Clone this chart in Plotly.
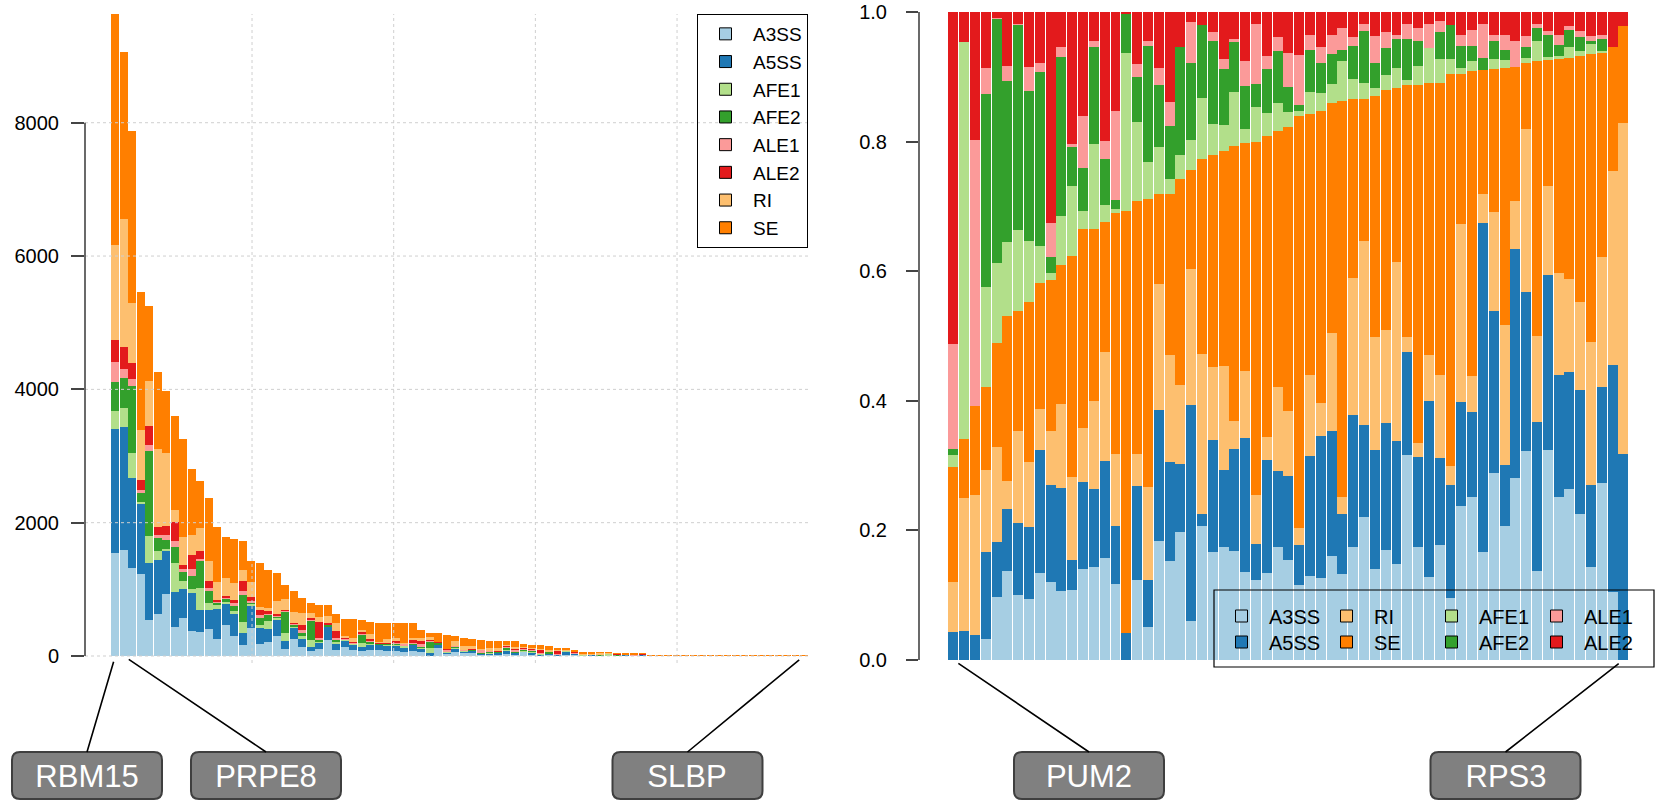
import plotly.graph_objects as go

W, H = 1656, 800
FONT = "Liberation Sans, Arial, Helvetica, sans-serif"

event_types = ["A3SS", "A5SS", "AFE1", "AFE2", "ALE1", "ALE2", "RI", "SE"]
palette = {"A3SS": "#A6CEE3", "A5SS": "#1F78B4", "AFE1": "#B2DF8A", "AFE2": "#33A02C",
           "ALE1": "#FB9A99", "ALE2": "#E31A1C", "RI": "#FDBF6F", "SE": "#FF7F00"}

# ---------------- left panel: event counts per RBP (sorted by total) ----------------
left_A3SS = [1548, 1594, 1320, 1229, 540, 631, 930, 436, 572, 377,
             364, 410, 260, 468, 293, 169, 416, 182, 215, 299,
             104, 260, 137, 78, 98, 247, 91, 137, 90, 75,
             85, 90, 70, 75, 55, 70, 55, 5, 115, 40,
             65, 40, 55, 20, 15, 25, 30, 20, 60, 20,
             10, 15, 10, 15, 15, 5, 5, 5, 0, 0,
             0, 5, 0, 0, 0, 0, 0, 0, 0, 0,
             0, 0, 0, 0, 0, 0, 0, 0, 0, 0,
             0, 0]
left_A5SS = [1860, 1841, 1353, 1047, 859, 813, 644, 527, 436, 572,
             325, 273, 442, 312, 338, 176, 332, 241, 195, 254,
             124, 163, 130, 59, 98, 189, 98, 91, 85, 60,
             80, 75, 90, 75, 65, 95, 50, 45, 50, 15,
             40, 30, 25, 15, 25, 25, 45, 30, 10, 30,
             15, 15, 5, 55, 25, 5, 10, 5, 0, 0,
             15, 0, 15, 0, 10, 0, 0, 0, 0, 0,
             0, 0, 0, 0, 0, 0, 0, 0, 0, 0,
             0, 0]
left_AFE1 = [267, 286, 371, 39, 403, 130, 33, 436, 117, 59,
             338, 117, 59, 33, 39, 169, 39, 46, 117, 20,
             117, 13, 26, 104, 20, 13, 20, 13, 5, 55,
             10, 5, 5, 15, 30, 10, 15, 65, 10, 5,
             15, 5, 5, 5, 5, 5, 10, 5, 5, 10,
             5, 5, 0, 10, 0, 10, 0, 0, 30, 0,
             0, 0, 0, 10, 0, 0, 0, 0, 0, 0,
             0, 0, 0, 0, 0, 0, 0, 0, 0, 0,
             0, 0]
left_AFE2 = [442, 449, 1008, 124, 1275, 195, 137, 241, 137, 195,
             397, 182, 39, 46, 78, 403, 20, 104, 98, 20,
             325, 39, 59, 293, 20, 20, 39, 13, 5, 135,
             35, 10, 20, 15, 10, 10, 15, 105, 20, 5,
             25, 10, 10, 10, 25, 5, 35, 10, 15, 15,
             5, 30, 5, 0, 0, 5, 0, 5, 0, 15,
             0, 0, 0, 0, 0, 0, 10, 0, 0, 0,
             0, 0, 0, 0, 0, 0, 0, 0, 0, 0,
             0, 0]
left_ALE1 = [293, 137, 104, 46, 91, 39, 78, 91, 46, 104,
             33, 39, 13, 13, 46, 59, 20, 39, 20, 13,
             13, 13, 39, 20, 39, 7, 20, 7, 10, 15,
             15, 5, 5, 10, 20, 15, 40, 5, 5, 25,
             5, 5, 5, 40, 5, 5, 15, 25, 25, 25,
             5, 5, 5, 0, 15, 0, 5, 0, 0, 0,
             5, 15, 0, 0, 0, 0, 0, 0, 0, 0,
             0, 0, 0, 0, 0, 0, 0, 0, 0, 0,
             0, 0]
left_ALE2 = [332, 332, 241, 156, 286, 130, 130, 280, 52, 208,
             117, 104, 26, 33, 46, 143, 52, 72, 26, 26,
             13, 13, 78, 20, 241, 26, 111, 20, 10, 25,
             25, 15, 10, 30, 10, 35, 45, 20, 5, 15,
             0, 5, 5, 5, 0, 5, 25, 20, 5, 10,
             50, 0, 50, 0, 5, 0, 0, 5, 0, 15,
             0, 0, 20, 0, 0, 10, 0, 0, 0, 0,
             0, 0, 0, 0, 0, 0, 0, 0, 0, 0,
             0, 0]
left_RI = [1424, 1919, 898, 748, 670, 1171, 1093, 182, 429, 299,
           345, 299, 273, 267, 260, 176, 234, 52, 52, 195,
           163, 163, 176, 78, 72, 104, 117, 20, 60, 30,
           75, 5, 60, 45, 10, 30, 45, 45, 0, 5,
           70, 55, 40, 10, 40, 45, 5, 25, 15, 20,
           15, 25, 15, 10, 10, 15, 20, 25, 15, 0,
           5, 5, 0, 0, 0, 0, 0, 10, 8, 0,
           5, 2, 0, 3, 0, 2, 0, 0, 2, 0,
           0, 0]
left_SE = [3467, 2504, 2582, 2075, 1125, 1151, 930, 1411, 1470, 995,
           709, 950, 826, 618, 657, 436, 312, 663, 572, 423,
           208, 312, 228, 150, 182, 163, 137, 260, 285, 150,
           180, 295, 240, 225, 290, 225, 120, 50, 135, 200,
           75, 115, 105, 130, 105, 105, 55, 85, 40, 30,
           55, 50, 30, 30, 20, 20, 20, 15, 15, 15,
           20, 20, 10, 5, 5, 5, 5, 5, 7, 10,
           10, 8, 10, 7, 8, 9, 7, 8, 6, 2,
           2, 2]
left_ticks = [0, 2000, 4000, 6000, 8000]
left_grid_units = [20, 40, 60, 80]          # barplot-unit positions of the vertical grid
left_callouts = [("RBM15", 0), ("PRPE8", 1), ("SLBP", 81)]

# ---------------- right panel: event composition (percent) per RBP ----------------
right_A3SS = [0, 0, 0, 3.3, 9.7, 13.7, 10.0, 9.4, 13.5, 12.0,
              10.6, 10.8, 14.0, 14.3, 15.7, 11.7, 0, 12.3, 5.1, 18.3,
              15.3, 19.7, 6.0, 20.7, 16.7, 17.4, 16.9, 13.5, 12.3, 13.5,
              17.4, 15.4, 11.6, 13.0, 12.7, 16.1, 13.3, 17.5, 22.0, 14.0,
              17.0, 14.9, 31.7, 17.5, 12.8, 17.7, 9.6, 23.7, 25.1, 16.6,
              28.9, 20.7, 28.1, 32.3, 13.8, 32.4, 25.2, 26.3, 22.6, 14.3,
              27.3, 10.5, 0]
right_A5SS = [4.3, 4.5, 3.9, 13.4, 8.6, 9.6, 11.1, 11.2, 18.9, 15.0,
              15.9, 4.6, 13.5, 12.1, 15.0, 8.9, 4.1, 14.6, 7.3, 20.3,
              15.2, 10.6, 33.3, 1.8, 17.2, 11.9, 15.7, 20.7, 5.6, 17.4,
              11.8, 13.0, 6.2, 18.5, 21.8, 19.3, 9.2, 20.3, 14.3, 18.4,
              19.5, 18.9, 15.9, 13.8, 27.1, 13.4, 17.4, 16.1, 13.2, 50.8,
              24.9, 9.4, 35.3, 24.5, 22.9, 27.0, 18.8, 18.1, 19.1, 12.7,
              14.8, 35.0, 31.8]
right_RI = [7.7, 20.5, 21.5, 12.6, 14.6, 4.3, 14.2, 10.0, 6.3, 8.3,
            13.0, 12.8, 8.3, 13.6, 16.9, 11.1, 0, 4.9, 14.3, 19.5,
            16.5, 12.1, 21.1, 24.6, 11.3, 16.1, 4.3, 10.4, 7.5, 3.5,
            13.0, 10.0, 2.6, 12.6, 5.2, 15.1, 2.6, 21.2, 28.4, 17.4,
            14.4, 27.7, 2.3, 2.2, 7.2, 12.8, 3.0, 27.4, 5.6, 4.5,
            15.3, 21.6, 7.3, 25.2, 13.3, 13.8, 15.8, 14.4, 13.6, 22.0,
            20.1, 29.9, 51.0]
right_SE = [17.8, 9.2, 13.8, 12.9, 16.0, 25.4, 18.6, 24.7, 19.5, 23.3,
            21.4, 34.2, 30.7, 26.4, 20.1, 37.2, 65.2, 39.1, 44.5, 13.8,
            24.9, 31.8, 15.2, 30.1, 32.7, 33.2, 42.5, 35.1, 54.5, 46.5,
            39.5, 43.9, 63.5, 40.3, 45.1, 35.7, 61.1, 27.5, 21.9, 37.2,
            37.0, 26.8, 39.0, 55.2, 41.9, 45.1, 60.5, 23.2, 47.0, 19.1,
            22.1, 39.6, 20.7, 10.2, 42.4, 19.5, 33.0, 34.0, 37.9, 44.5,
            31.6, 19.2, 15.0]
right_AFE1 = [1.9, 61.2, 0, 15.3, 12.4, 11.5, 12.4, 9.4, 5.8, 1.1,
              7.5, 10.7, 2.8, 13.2, 2.6, 0.6, 24.5, 12.1, 5.6, 7.2,
              2.4, 3.8, 4.6, 9.5, 4.8, 3.9, 8.3, 2.2, 5.4, 3.5,
              4.3, 2.2, 0.7, 3.3, 2.7, 2.8, 6.1, 3.2, 2.5, 1.3,
              2.3, 3.2, 0.7, 3.0, 5.4, 3.7, 2.3, 0.9, 1.5, 0,
              1.5, 1.2, 0, 0.7, 3.2, 0.3, 0.5, 1.7, 0.8, 1.5,
              0.2, 0, 0]
right_AFE2 = [0.8, 0, 0, 29.9, 37.8, 24.7, 31.8, 23.1, 26.8, 2.4,
              24.6, 6.0, 6.6, 14.9, 7.1, 1.4, 6.0, 6.9, 17.9, 9.6,
              8.1, 16.6, 12.0, 11.2, 12.7, 8.7, 7.7, 6.6, 3.5, 6.8,
              8.0, 3.9, 0.9, 6.6, 4.7, 4.7, 1.8, 5.0, 7.9, 3.9,
              4.2, 4.5, 6.4, 3.9, 0, 4.1, 5.2, 3.3, 2.3, 1.8,
              2.9, 1.6, 0, 1.7, 2.0, 3.4, 1.7, 2.6, 2.1, 0.5,
              2.0, 0, 0]
right_ALE1 = [16.2, 0, 41.1, 3.9, 0.1, 2.4, 0.1, 3.7, 1.4, 5.2,
              1.5, 0.6, 8.1, 0.9, 2.8, 13.7, 0, 2.0, 0.9, 2.6,
              3.7, 0, 6.2, 0, 1.4, 1.5, 0.6, 3.8, 9.2, 2.0,
              2.1, 5.2, 7.7, 2.3, 2.4, 3.0, 3.4, 1.4, 1.1, 4.1,
              2.4, 0.6, 2.2, 2.0, 3.7, 1.7, 0, 1.8, 2.5, 5.2,
              0.9, 2.3, 4.1, 1.7, 0.5, 0.6, 1.5, 0.6, 0.9, 0.8,
              0.5, 0, 0]
right_ALE2 = [51.3, 4.7, 19.7, 8.7, 0.9, 8.3, 1.8, 8.5, 7.9, 32.6,
              5.4, 20.3, 16.0, 4.5, 19.9, 15.3, 0.3, 8.1, 4.4, 8.7,
              13.9, 5.4, 1.6, 2.0, 3.1, 7.3, 4.1, 7.6, 1.9, 6.8,
              3.9, 6.4, 6.7, 3.5, 5.4, 3.5, 2.4, 3.9, 1.9, 3.7,
              3.1, 3.5, 1.9, 2.4, 1.9, 1.4, 2.0, 3.5, 2.8, 1.9,
              3.5, 3.5, 4.4, 3.7, 1.9, 3.0, 3.6, 2.2, 3.0, 3.7,
              3.6, 5.4, 2.2]
right_ticks = [0.0, 0.2, 0.4, 0.6, 0.8, 1.0]
right_order = ["A3SS", "A5SS", "RI", "SE", "AFE1", "AFE2", "ALE1", "ALE2"]
right_legend_row1 = ["A3SS", "RI", "AFE1", "ALE1"]
right_callouts = [("PUM2", 0), ("RPS3", 62)]

left = {"A3SS": left_A3SS, "A5SS": left_A5SS, "AFE1": left_AFE1, "AFE2": left_AFE2,
        "ALE1": left_ALE1, "ALE2": left_ALE2, "RI": left_RI, "SE": left_SE}
right = {"A3SS": right_A3SS, "A5SS": right_A5SS, "AFE1": right_AFE1, "AFE2": right_AFE2,
         "ALE1": right_ALE1, "ALE2": right_ALE2, "RI": right_RI, "SE": right_SE}
n_left = len(left_SE)
n_right = len(right_SE)
for v in left.values():
    assert len(v) == n_left
for v in right.values():
    assert len(v) == n_right
right_tot = [sum(right[t][i] for t in event_types) for i in range(n_right)]

# ---------------- layout geometry (pixels) ----------------
def PX(x):
    return x / W

def PY(y):
    return 1 - y / H

L_DOM_X = [PX(85), PX(808)]
L_DOM_Y = [PY(663), PY(14)]
L_RNG_X = [-3.565, 81.49]
L_RNG_Y = [-105, 9631]
R_DOM_X = [PX(919), PX(1654)]
R_DOM_Y = [PY(667), PY(12)]
R_RNG_X = [-3.183, 64.83]
R_RNG_Y = [-0.01081, 1.0]


def to_px(v, dom, rng):
    return (dom[0] + (v - rng[0]) / (rng[1] - rng[0]) * (dom[1] - dom[0])) * W


def to_py(v, dom, rng):
    return (1 - (dom[0] + (v - rng[0]) / (rng[1] - rng[0]) * (dom[1] - dom[0]))) * H


fig = go.Figure()

# data bars (legend entries are drawn by separate keys with black outlines below)
for t in event_types:
    fig.add_trace(go.Bar(
        x=list(range(n_left)), y=left[t], name=t, width=0.9,
        marker=dict(color=palette[t], line=dict(width=0)),
        xaxis="x", yaxis="y", showlegend=False,
        hovertemplate=t + ": %{y}<extra></extra>"))

for t in right_order:
    frac = [right[t][i] / right_tot[i] for i in range(n_right)]
    fig.add_trace(go.Bar(
        x=list(range(n_right)), y=frac, name=t, width=0.92,
        marker=dict(color=palette[t], line=dict(width=0)),
        xaxis="x2", yaxis="y2", showlegend=False,
        hovertemplate=t + ": %{y:.2f}<extra></extra>"))

# legend keys (outlined squares like the original)
for k, t in enumerate(event_types):
    fig.add_trace(go.Bar(
        x=[None], y=[None], name=t, xaxis="x", yaxis="y",
        marker=dict(color=palette[t], line=dict(color="black", width=1)),
        legend="legend", legendrank=k + 1, showlegend=True, hoverinfo="skip"))
for k, t in enumerate(right_order):
    fig.add_trace(go.Bar(
        x=[None], y=[None], name=t, xaxis="x2", yaxis="y2",
        marker=dict(color=palette[t], line=dict(color="black", width=1)),
        legend="legend2" if t in right_legend_row1 else "legend3",
        legendrank=k + 1, showlegend=True, hoverinfo="skip"))

shapes = []
grid_line = dict(color="#CFCFCF", width=1, dash="dot")
# left grid (drawn over bars as in the original)
for u in left_grid_units:
    gx = (u - 0.7) / 1.2
    shapes.append(dict(type="line", xref="x", yref="y domain", x0=gx, x1=gx, y0=0, y1=1,
                       line=grid_line, layer="above"))
for t in left_ticks:
    shapes.append(dict(type="line", xref="x domain", yref="y", x0=0, x1=1, y0=t, y1=t,
                       line=grid_line, layer="above"))
# axis lines spanning the tick range only
shapes.append(dict(type="line", xref="x domain", yref="y", x0=0, x1=0,
                   y0=left_ticks[0], y1=left_ticks[-1], line=dict(color="#444444", width=1.6)))
shapes.append(dict(type="line", xref="x2 domain", yref="y2", x0=0, x1=0,
                   y0=right_ticks[0], y1=right_ticks[-1], line=dict(color="#444444", width=1.6)))
# right legend frame
shapes.append(dict(type="rect", xref="paper", yref="paper", x0=PX(1214), x1=PX(1654),
                   y0=PY(667), y1=PY(590), line=dict(color="black", width=1.2),
                   fillcolor="rgba(0,0,0,0)", layer="above"))


def rounded_box(cx, top, w, h, r):
    x0, x1 = cx - w / 2, cx + w / 2
    y0, y1 = top, top + h
    pts = [("M", [(x0 + r, y0)]), ("L", [(x1 - r, y0)]), ("Q", [(x1, y0), (x1, y0 + r)]),
           ("L", [(x1, y1 - r)]), ("Q", [(x1, y1), (x1 - r, y1)]), ("L", [(x0 + r, y1)]),
           ("Q", [(x0, y1), (x0, y1 - r)]), ("L", [(x0, y0 + r)]), ("Q", [(x0, y0), (x0 + r, y0)])]
    path = ""
    for cmd, ps in pts:
        path += cmd + " " + " ".join(f"{PX(x):.6f},{PY(y):.6f}" for x, y in ps) + " "
    return path + "Z"


BOX_TOP, BOX_W, BOX_H = 752, 150, 47
label_centers = {"RBM15": 87, "PRPE8": 266, "SLBP": 687.5, "PUM2": 1089, "RPS3": 1505.5}

annotations = []
for panel, callouts in (("L", left_callouts), ("R", right_callouts)):
    for name, idx in callouts:
        if panel == "L":
            hx = to_px(idx, L_DOM_X, L_RNG_X)
            hy = to_py(0, L_DOM_Y, L_RNG_Y)
            xr, yr = "x", "y"
        else:
            hx = to_px(idx, R_DOM_X, R_RNG_X)
            hy = to_py(0, R_DOM_Y, R_RNG_Y)
            xr, yr = "x2", "y2"
        cx = label_centers[name]
        shapes.append(dict(type="path", xref="paper", yref="paper",
                           path=rounded_box(cx, BOX_TOP, BOX_W, BOX_H, 8),
                           fillcolor="#808080", line=dict(color="#3F3F3F", width=2)))
        annotations.append(dict(
            x=idx, y=0, xref=xr, yref=yr, axref="pixel", ayref="pixel",
            ax=cx - hx, ay=BOX_TOP - hy, showarrow=True, arrowhead=0, arrowwidth=1.6,
            arrowcolor="black", standoff=6, text=name,
            font=dict(family=FONT, size=31, color="white"),
            xanchor="center", yanchor="top", width=BOX_W - 4, height=BOX_H - 4,
            borderpad=2, align="center", valign="middle", bgcolor="rgba(0,0,0,0)"))

axis_font = dict(family=FONT, size=20, color="black")

fig.update_layout(
    width=W, height=H, margin=dict(l=0, r=0, t=0, b=0, autoexpand=False),
    paper_bgcolor="white", plot_bgcolor="white",
    barmode="stack", bargap=0, showlegend=True,
    xaxis=dict(domain=L_DOM_X, range=L_RNG_X, anchor="y", showgrid=False, zeroline=False,
               showline=False, showticklabels=False, ticks="", automargin=False),
    yaxis=dict(domain=L_DOM_Y, range=L_RNG_Y, anchor="x", showgrid=False, zeroline=False,
               showline=False, tickmode="array", tickvals=left_ticks,
               ticktext=[str(t) for t in left_ticks], ticks="outside", ticklen=13,
               tickwidth=1.6, tickcolor="#444444", tickfont=axis_font, ticklabelstandoff=8,
               ticklabeloverflow="allow", automargin=False),
    xaxis2=dict(domain=R_DOM_X, range=R_RNG_X, anchor="y2", showgrid=False, zeroline=False,
                showline=False, showticklabels=False, ticks="", automargin=False),
    yaxis2=dict(domain=R_DOM_Y, range=R_RNG_Y, anchor="x2", showgrid=False, zeroline=False,
                showline=False, tickmode="array", tickvals=right_ticks,
                ticktext=[f"{t:.1f}" for t in right_ticks], ticks="outside", ticklen=12,
                tickwidth=1.6, tickcolor="#444444", tickfont=axis_font, ticklabelstandoff=15,
                ticklabeloverflow="allow", automargin=False),
    legend=dict(x=PX(808), xanchor="right", y=PY(14), yanchor="top", orientation="v",
                bordercolor="black", borderwidth=1, bgcolor="rgba(0,0,0,0)",
                font=dict(family=FONT, size=19, color="black"), traceorder="normal",
                itemwidth=45, tracegroupgap=0),
    legend2=dict(x=PX(1214), xanchor="left", y=PY(616), yanchor="middle", orientation="h",
                 borderwidth=0, bgcolor="rgba(0,0,0,0)",
                 font=dict(family=FONT, size=20, color="black"),
                 traceorder="normal", itemwidth=45, entrywidth=45, entrywidthmode="pixels"),
    legend3=dict(x=PX(1214), xanchor="left", y=PY(642), yanchor="middle", orientation="h",
                 borderwidth=0, bgcolor="rgba(0,0,0,0)",
                 font=dict(family=FONT, size=20, color="black"),
                 traceorder="normal", itemwidth=45, entrywidth=45, entrywidthmode="pixels"),
    shapes=shapes, annotations=annotations,
    font=dict(family=FONT),
)

fig.write_html("out.html", config={"displayModeBar": False},
               post_script="document.body.style.margin='0px';"
                           "document.body.style.overflow='hidden';")
